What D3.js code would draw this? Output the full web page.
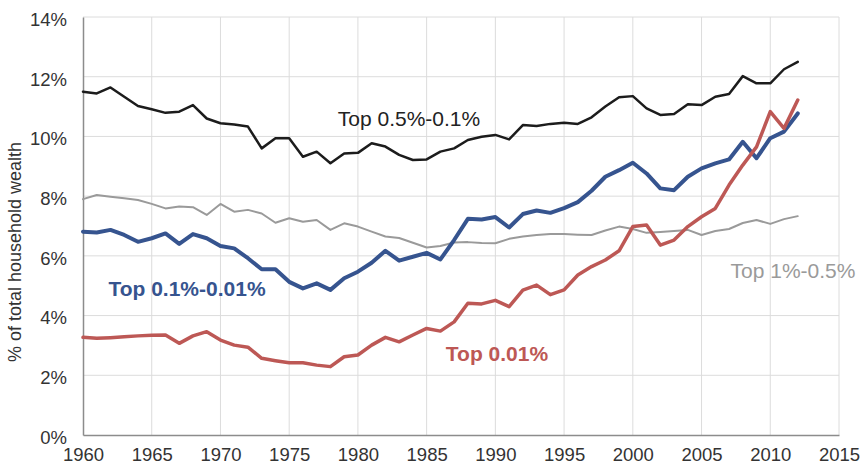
<!DOCTYPE html>
<html><head><meta charset="utf-8">
<script src="https://cdn.jsdelivr.net/npm/d3@7"></script>
<style>html,body{margin:0;padding:0;background:#fff;}svg{display:block;font-family:"Liberation Sans",Arial,sans-serif;}</style>
</head><body><svg id="c" width="865" height="469"></svg>
<script>
const years = d3.range(1960, 2013);
const top05_01 = [11.50,11.44,11.64,11.33,11.02,10.91,10.79,10.83,11.05,10.60,10.44,10.40,10.33,9.60,9.94,9.94,9.32,9.49,9.10,9.43,9.45,9.77,9.66,9.38,9.21,9.23,9.49,9.60,9.88,9.99,10.05,9.90,10.38,10.35,10.42,10.46,10.42,10.64,11.00,11.31,11.35,10.94,10.72,10.75,11.08,11.05,11.33,11.42,12.02,11.78,11.78,12.25,12.50];
const top01_001 = [6.81,6.78,6.87,6.70,6.47,6.59,6.75,6.40,6.73,6.59,6.33,6.25,5.92,5.55,5.55,5.13,4.91,5.08,4.86,5.25,5.47,5.77,6.17,5.84,5.97,6.10,5.88,6.53,7.24,7.22,7.30,6.95,7.40,7.52,7.44,7.60,7.80,8.18,8.65,8.87,9.12,8.76,8.26,8.20,8.65,8.93,9.10,9.23,9.82,9.27,9.94,10.16,10.77];
const top001 = [3.27,3.24,3.26,3.29,3.32,3.34,3.35,3.07,3.32,3.46,3.18,3.01,2.94,2.57,2.49,2.42,2.42,2.34,2.29,2.62,2.68,3.01,3.27,3.12,3.35,3.57,3.48,3.79,4.41,4.39,4.51,4.30,4.85,5.02,4.70,4.86,5.36,5.64,5.86,6.17,6.98,7.03,6.36,6.53,6.98,7.31,7.59,8.37,9.04,9.65,10.83,10.27,11.22];
const top1_05 = [7.90,8.04,7.98,7.93,7.87,7.74,7.59,7.65,7.63,7.37,7.74,7.48,7.54,7.42,7.11,7.26,7.14,7.20,6.87,7.09,6.98,6.81,6.65,6.60,6.44,6.28,6.33,6.45,6.46,6.43,6.42,6.57,6.65,6.70,6.73,6.73,6.71,6.70,6.85,6.98,6.90,6.77,6.80,6.83,6.87,6.70,6.83,6.90,7.10,7.20,7.07,7.23,7.33];
const yTicks = [0,2,4,6,8,10,12,14];
const xTicks = [1960,1965,1970,1975,1980,1985,1990,1995,2000,2005,2010,2015];
const seriesNames = ["Top 1%-0.5%","Top 0.5%-0.1%","Top 0.1%-0.01%","Top 0.01%"];
const yTitle = "% of total household wealth";

const svg = d3.select("#c");
const L = 83, R = 839, T = 17, B = 435;
const x = d3.scaleLinear().domain([1960, 2015]).range([L, R]);
const y = d3.scaleLinear().domain([0, 14]).range([B, T]);

// grid
svg.append("g").selectAll("line.h").data(yTicks.slice(1)).join("line")
  .attr("x1", L).attr("x2", R).attr("y1", d => y(d)).attr("y2", d => y(d))
  .attr("stroke", "#dcdcdc").attr("stroke-width", 1);
svg.append("g").selectAll("line.v").data(xTicks.slice(1)).join("line")
  .attr("x1", d => x(d)).attr("x2", d => x(d)).attr("y1", T).attr("y2", B)
  .attr("stroke", "#dcdcdc").attr("stroke-width", 1);

// axes
const yAxis = svg.append("g").attr("transform", `translate(${L},0)`)
  .call(d3.axisLeft(y).tickValues(yTicks).tickFormat(d => d + "%").tickSize(0).tickPadding(16));
const xAxis = svg.append("g").attr("transform", `translate(0,${B})`)
  .call(d3.axisBottom(x).tickValues(xTicks).tickFormat(d3.format("d")).tickSize(0).tickPadding(13));
[yAxis, xAxis].forEach(a => {
  a.select(".domain").attr("stroke", "#8c8c8c").attr("stroke-width", 1.5);
  a.selectAll("text").attr("font-size", 18.5).attr("fill", "#333").attr("font-family", "Liberation Sans, Arial, sans-serif");
});
yAxis.selectAll("text").attr("dy", "0.45em");

// y title
svg.append("text").attr("transform", `translate(21,252) rotate(-90)`)
  .attr("text-anchor", "middle").attr("font-size", 18).attr("fill", "#333")
  .text(yTitle);

const line = d3.line().x((d, i) => x(years[i])).y(d => y(d));
const series = [
  {v: top1_05, c: "#9a9a9a", w: 2},
  {v: top05_01, c: "#1c1c1c", w: 2.5},
  {v: top01_001, c: "#36548f", w: 4},
  {v: top001, c: "#bd5855", w: 3.5}
];
svg.append("g").selectAll("path").data(series).join("path")
  .attr("d", s => line(s.v)).attr("fill", "none")
  .attr("stroke", s => s.c).attr("stroke-width", s => s.w)
  .attr("stroke-linejoin", "round").attr("stroke-linecap", "round");

// labels
const labels = [
  {t: seriesNames[1], x: 409, y: 118, c: "#222", b: false},
  {t: seriesNames[2], x: 187, y: 288, c: "#36548f", b: true},
  {t: seriesNames[3], x: 497, y: 353, c: "#bd5855", b: true},
  {t: seriesNames[0], x: 793, y: 270, c: "#9a9a9a", b: false}
];
svg.append("g").selectAll("text").data(labels).join("text")
  .attr("x", d => d.x).attr("y", d => d.y).attr("dy", "0.36em")
  .attr("text-anchor", "middle").attr("font-size", 21)
  .attr("font-weight", d => d.b ? "bold" : "normal")
  .attr("fill", d => d.c).text(d => d.t);
</script></body></html>
